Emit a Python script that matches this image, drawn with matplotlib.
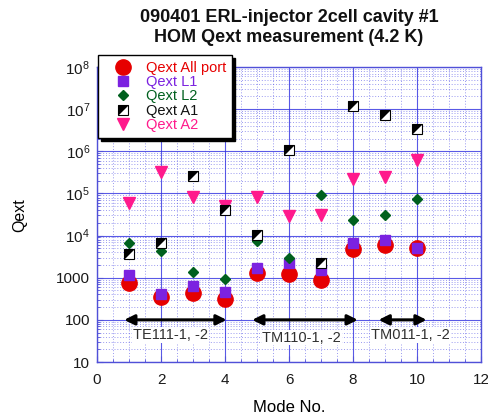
import matplotlib
matplotlib.use("Agg")
import matplotlib.pyplot as plt
from matplotlib.path import Path
from matplotlib.ticker import FixedLocator, FixedFormatter, MultipleLocator, LogLocator, NullFormatter
from matplotlib.legend_handler import HandlerTuple

plt.rcParams['font.family'] = ['Liberation Sans', 'DejaVu Sans']
plt.rcParams['mathtext.fontset'] = 'custom'
plt.rcParams['mathtext.rm'] = 'Liberation Sans'
plt.rcParams['mathtext.it'] = 'Liberation Sans'

modes = [1, 2, 3, 4, 5, 6, 7, 8, 9, 10]
q_all = [760, 350, 440, 310, 1260, 1200, 870, 4900, 5900, 5100]
q_l1 = [1150, 400, 630, 465, 1740, 2200, 1510, 6700, 7800, 5100]
q_l2 = [6500, 4350, 1380, 950, 7400, 2950, 93000, 23000, 30000, 72000]
q_a1 = [3600, 6500, 256000, 41500, 10200, 1.05e6, 2250, 1.17e7, 7.4e6, 3.3e6]
q_a2 = [59000, 330000, 83000, 50000, 83000, 29000, 30000, 220000, 245000, 620000]

ytick_vals = [10, 100, 1000, 1e4, 1e5, 1e6, 1e7, 1e8]
ytick_labels = ['10', '100', '1000', '$10^4$', '$10^5$', '$10^6$', '$10^7$', '$10^8$']
xtick_vals = [0, 2, 4, 6, 8, 10, 12]

arrows = [(0.85, 4.05, 100), (4.85, 8.15, 100), (8.8, 10.3, 100)]
arrow_labels = [("TE111-1, -2", 2.3, 44), ("TM110-1, -2", 6.4, 38), ("TM011-1, -2", 9.8, 44)]

c_red = '#e60000'
c_purple = '#7b22e0'
c_green = '#00601e'
c_pink = '#ff1a8c'
c_grid = '#3030e0'

fig = plt.figure(figsize=(4.89, 4.16), dpi=100)
ax = fig.add_axes([97/489, 54/416, 384/489, 295/416])
ax.set_yscale('log')
ax.set_xlim(0, 12)
ax.set_ylim(10, 1e8)

ax.yaxis.set_major_locator(FixedLocator(ytick_vals))
ax.yaxis.set_major_formatter(FixedFormatter(ytick_labels))
ax.yaxis.set_minor_locator(LogLocator(base=10, subs=range(2, 10)))
ax.yaxis.set_minor_formatter(NullFormatter())
ax.xaxis.set_major_locator(FixedLocator(xtick_vals))
ax.xaxis.set_minor_locator(MultipleLocator(0.5))

ax.grid(True, which='major', color=c_grid, lw=0.8, ls='-', alpha=0.8)
ax.grid(True, which='minor', color=c_grid, lw=0.6, ls=(0, (1.2, 2.2)), alpha=0.55)
ax.set_axisbelow(True)
for s in ax.spines.values():
    s.set_color('#5050d8')
    s.set_linewidth(1.0)
ax.tick_params(which='both', direction='in', colors='#5050d8', labelcolor='#1a1a1a', labelsize=11)
ax.tick_params(which='major', length=4)
ax.tick_params(which='minor', length=2)
ax.tick_params(axis='x', which='major', pad=8)
ax.tick_params(axis='y', which='major', pad=5)

h_all, = ax.plot(modes, q_all, 'o', color=c_red, ms=11, mec=c_red, ls='none', zorder=3)
h_l1, = ax.plot(modes, q_l1, 's', color=c_purple, ms=7.5, mec=c_purple, ls='none', zorder=4)
h_l2, = ax.plot(modes, q_l2, 'D', color=c_green, ms=5, mec=c_green, ls='none', zorder=5)
h_a1a, = ax.plot(modes, q_a1, 's', mfc='white', mec='black', mew=0.8, ms=7.5, ls='none', zorder=6)
tri = Path([(-1, 1), (1, 1), (-1, -1), (-1, 1)], [Path.MOVETO, Path.LINETO, Path.LINETO, Path.CLOSEPOLY])
h_a1b, = ax.plot(modes, q_a1, marker=tri, color='black', mec='black', mew=0, ms=7.5, ls='none', zorder=7)
h_a2, = ax.plot(modes, q_a2, 'v', color=c_pink, mec=c_pink, ms=8.5, ls='none', zorder=5)

for x0, x1, y in arrows:
    ax.annotate('', xy=(x1, y), xytext=(x0, y),
                arrowprops=dict(arrowstyle='<|-|>', color='black', lw=2.2,
                                mutation_scale=15, shrinkA=0, shrinkB=0), zorder=8)
for txt, x, y in arrow_labels:
    ax.text(x, y, txt, ha='center', va='center', fontsize=10.5, color='#303030',
            bbox=dict(facecolor='white', edgecolor='none', pad=0.5), zorder=8)

ax.set_xlabel('Mode No.', fontsize=12)
ax.xaxis.set_label_coords(289/489, 1 - 400/416, transform=fig.transFigure)
fig.text(20/489, 1 - 215/416, 'Qext', rotation=90, ha='center', va='center', fontsize=11.5)

fig.text(289/489, 1 - 17/416, '090401 ERL-injector 2cell cavity #1', ha='center', va='center',
         fontsize=13, fontweight='bold', color='#111111')
fig.text(289/489, 1 - 38/416, 'HOM Qext measurement (4.2 K)', ha='center', va='center',
         fontsize=13, fontweight='bold', color='#111111')

leg = ax.legend([h_all, h_l1, h_l2, (h_a1a, h_a1b), h_a2],
                ['Qext All port', 'Qext L1', 'Qext L2', 'Qext A1', 'Qext A2'],
                handler_map={tuple: HandlerTuple(ndivide=1)},
                loc='upper left', bbox_to_anchor=(98/489, 1 - 55/416), bbox_transform=fig.transFigure,
                fontsize=10.5, frameon=True, fancybox=False, shadow={'color': 'black', 'alpha': 1.0},
                borderpad=0.4, labelspacing=0.02, handletextpad=0.3, handlelength=2.6,
                borderaxespad=0)
leg.get_frame().set_edgecolor('black')
leg.get_frame().set_linewidth(1.0)
leg.get_frame().set_alpha(1.0)
leg.set_zorder(10)
for t, c in zip(leg.get_texts(), [c_red, c_purple, c_green, '#111111', c_pink]):
    t.set_color(c)

fig.savefig('out.png', dpi=100)
